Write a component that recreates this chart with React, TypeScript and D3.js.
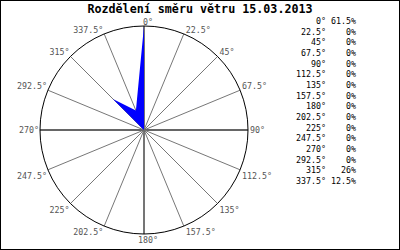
import React from "react";
import * as d3 from "d3";

const directions = ["0°", "22.5°", "45°", "67.5°", "90°", "112.5°", "135°", "157.5°", "180°", "202.5°", "225°", "247.5°", "270°", "292.5°", "315°", "337.5°"];
const angles = [0, 22.5, 45, 67.5, 90, 112.5, 135, 157.5, 180, 202.5, 225, 247.5, 270, 292.5, 315, 337.5];
const percents = [61.5, 0, 0, 0, 0, 0, 0, 0, 0, 0, 0, 0, 0, 0, 26, 12.5];
const percentLabels = ["61.5%", "0%", "0%", "0%", "0%", "0%", "0%", "0%", "0%", "0%", "0%", "0%", "0%", "0%", "26%", "12.5%"];
const title = "Rozdělení směru větru 15.03.2013";

const W = 400, H = 250;
const cx = 144, cy = 130, R = 104;
const mono = "'DejaVu Sans Mono', monospace";

export default function App() {
  const rScale = d3.scaleLinear().domain([0, d3.max(percents) as number]).range([0, R]);
  const toXY = (deg: number, r: number): [number, number] => {
    const a = (deg * Math.PI) / 180;
    return [cx + r * Math.sin(a), cy - r * Math.cos(a)];
  };
  const pts: [number, number][] = [];
  pts.push([cx, cy]);
  const order = [0, 15, 14];
  order.forEach((i) => pts.push(toXY(angles[i], rScale(percents[i]))));
  const poly = d3.line()(pts.concat([[cx, cy]])) as string;

  const legendY = d3.scaleLinear().domain([0, 15]).range([24, 184]);

  return (
    <svg width={W} height={H} style={{ position: "fixed", left: 0, top: 0, background: "#fff" }}>
      <rect x={0.5} y={0.5} width={W - 1} height={H - 1} fill="#fff" stroke="#000" />
      <text x={200} y={13} textAnchor="middle" fontFamily={mono} fontWeight="bold" fontSize={11.7} fill="#000">{title}</text>
      {angles.map((a, i) => {
        const [x2, y2] = toXY(a, R);
        const cardinal = a % 90 === 0;
        return (
          <line key={"s" + i} x1={cx} y1={cy} x2={x2} y2={y2} stroke={cardinal ? "#666" : "#777"} strokeWidth={cardinal ? 1.8 : 1} />
        );
      })}
      <circle cx={cx} cy={cy} r={R} fill="none" stroke="#000" strokeWidth={1} />
      <path d={poly} fill="#0000ff" stroke="none" />
      {angles.map((a, i) => {
        const [px, py] = toXY(a, R);
        const s = Math.sin((a * Math.PI) / 180);
        const c = Math.cos((a * Math.PI) / 180);
        let anchor = "middle";
        let x = px;
        if (s > 0.01) { anchor = "start"; x = px + 2; }
        else if (s < -0.01) { anchor = "end"; x = px - 1; }
        else { x = px + 4; }
        let y = py;
        if (Math.abs(c) < 0.01) y = py + 3;
        else if (c > 0) y = py - 1;
        else y = py + 9;
        return (
          <text key={"l" + i} x={x} y={y} textAnchor={anchor} fontFamily={mono} fontSize={8.3} fill="#555">{directions[i]}</text>
        );
      })}
      {directions.map((d, i) => (
        <g key={"g" + i}>
          <text x={326} y={legendY(i)} textAnchor="end" fontFamily={mono} fontSize={8.3} fill="#000">{d}</text>
          <text x={356} y={legendY(i)} textAnchor="end" fontFamily={mono} fontSize={8.3} fill="#000">{percentLabels[i]}</text>
        </g>
      ))}
    </svg>
  );
}
